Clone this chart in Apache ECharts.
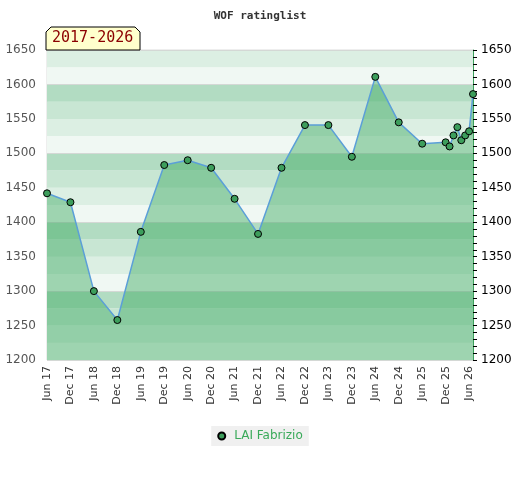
<!DOCTYPE html>
<html>
<head>
<meta charset="utf-8">
<script src="https://cdn.jsdelivr.net/npm/echarts@6/dist/echarts.min.js"></script>
<style>
  html, body { margin: 0; padding: 0; background: #fff; }
  #chart { width: 520px; height: 480px; }
</style>
</head>
<body>
<div id="chart"></div>
<script>
// rating dates (year-month) and values
const dates = ['2017-06', '2017-12', '2018-06', '2018-12', '2019-06', '2019-12', '2020-06', '2020-12',
  '2021-06', '2021-12', '2022-06', '2022-12', '2023-06', '2023-12', '2024-06', '2024-12', '2025-06',
  '2025-12', '2026-01', '2026-02', '2026-03', '2026-04', '2026-05', '2026-06', '2026-07']
const ratings = [1442, 1429, 1300, 1258, 1386, 1483, 1490, 1479, 1434, 1383, 1479, 1541, 1541, 1495,
  1611, 1545, 1514, 1516, 1510, 1526, 1538, 1519, 1526, 1532, 1586]
const xLabels = ['Jun 17', 'Dec 17', 'Jun 18', 'Dec 18', 'Jun 19', 'Dec 19', 'Jun 20', 'Dec 20', 'Jun 21',
  'Dec 21', 'Jun 22', 'Dec 22', 'Jun 23', 'Dec 23', 'Jun 24', 'Dec 24', 'Jun 25', 'Dec 25', 'Jun 26']
const playerName = 'LAI Fabrizio'
const periodLabel = '2017-2026'

// months since Jun 2017
const monthIndex = d => {
  const [y, m] = d.split('-').map(Number)
  return (y - 2017) * 12 + (m - 6)
}
const points = dates.map((d, i) => [monthIndex(d), ratings[i]])
const xMax = monthIndex(dates[dates.length - 1])

const chart = echarts.init(document.getElementById('chart'))

chart.setOption({
  animation: false,
  title: {
    text: 'WOF ratinglist',
    left: 'center',
    top: 6,
    textStyle: { fontFamily: 'DejaVu Sans Mono', fontSize: 11, fontWeight: 'bold', color: '#333' }
  },
  legend: {
    data: [playerName],
    bottom: 34,
    left: 'center',
    icon: 'circle',
    itemWidth: 7,
    itemHeight: 7,
    itemGap: 8,
    padding: [4, 6],
    backgroundColor: '#f0f0f0',
    textStyle: { color: '#3aaa5a', fontSize: 12, fontFamily: 'DejaVu Sans', padding: [0, 0, 0, 4] }
  },
  grid: {
    left: 47, right: 47, top: 50, bottom: 120,
    show: true, borderColor: '#ddd', borderWidth: 1
  },
  xAxis: {
    type: 'value',
    min: 0,
    max: xMax,
    interval: 6,
    axisLine: { show: false },
    axisTick: { show: false },
    splitLine: { show: false },
    axisLabel: {
      rotate: 90,
      color: '#333',
      fontSize: 11,
      fontFamily: 'DejaVu Sans',
      margin: 6,
      showMaxLabel: false,
      formatter: v => (v % 6 === 0 ? xLabels[v / 6] || '' : '')
    }
  },
  yAxis: [
    {
      type: 'value', position: 'left', min: 1200, max: 1650, interval: 50,
      axisLine: { show: false }, axisTick: { show: false }, splitLine: { show: false },
      axisLabel: { color: '#555', fontSize: 12, fontFamily: 'DejaVu Sans', margin: 11, formatter: v => String(v) }
    },
    {
      type: 'value', position: 'right', min: 1200, max: 1650, interval: 50,
      axisLine: { show: true, lineStyle: { color: '#3a9f5a', width: 1 } },
      axisTick: { show: true, length: 4, lineStyle: { color: '#000' } },
      minorTick: { show: true, splitNumber: 5, length: 4, lineStyle: { color: '#000' } },
      splitLine: { show: false },
      axisLabel: { color: '#000', fontSize: 12, fontFamily: 'DejaVu Sans', margin: 8, formatter: v => String(v) }
    },
    {
      // background bands
      type: 'value', position: 'left', min: 1200, max: 1650, interval: 25,
      axisLine: { show: false }, axisTick: { show: false }, axisLabel: { show: false },
      splitLine: { show: false },
      splitArea: { show: true, areaStyle: { color: ['#f0f8f3', '#dcefe3', '#c8e6d3', '#b2dcc2'] } }
    },
    {
      type: 'value', position: 'left', min: 1200, max: 1650, interval: 100,
      axisLine: { show: false }, axisTick: { show: false }, axisLabel: { show: false },
      splitLine: { show: true, lineStyle: { color: '#d4d8d5', width: 1 } }
    }
  ],
  graphic: [
    {
      type: 'polygon',
      shape: { points: [[46, 50], [46, 32], [51, 27], [135, 27], [140, 32], [140, 50]] },
      style: { fill: '#ffffcc', stroke: '#000', lineWidth: 1 },
      z: 100
    },
    {
      type: 'text',
      left: 52,
      top: 31,
      style: { text: periodLabel, fill: '#8b0000', font: '15px "DejaVu Sans Mono"' },
      z: 101
    }
  ],
  series: [{
    name: playerName,
    type: 'line',
    yAxisIndex: 0,
    data: points,
    color: '#3d9e5c',
    symbol: 'circle',
    symbolSize: 7,
    itemStyle: { color: '#3d9e5c', borderColor: '#000', borderWidth: 1 },
    lineStyle: { color: '#5b9fd8', width: 1.5 },
    areaStyle: { color: 'rgba(58,168,96,0.45)', opacity: 1, origin: 'start' },
    z: 10
  }]
})
</script>
</body>
</html>
